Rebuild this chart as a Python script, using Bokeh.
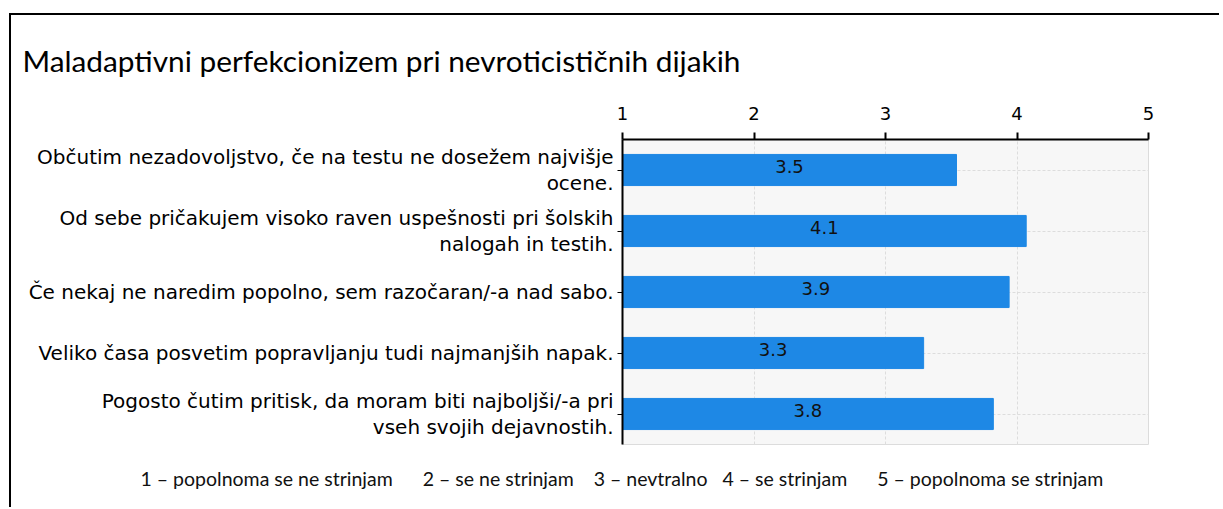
from bokeh.plotting import figure
from bokeh.models import Range1d, FactorRange, FixedTicker, ColumnDataSource, Title
from bokeh.embed import file_html
from bokeh.resources import INLINE
from bokeh.core.properties import value

title_text = "Maladaptivni perfekcionizem pri nevroticističnih dijakih"
statements = [
    "Občutim nezadovoljstvo, če na testu ne dosežem najvišje\nocene.",
    "Od sebe pričakujem visoko raven uspešnosti pri šolskih\nnalogah in testih.",
    "Če nekaj ne naredim popolno, sem razočaran/-a nad sabo.",
    "Veliko časa posvetim popravljanju tudi najmanjših napak.",
    "Pogosto čutim pritisk, da moram biti najboljši/-a pri\nvseh svojih dejavnostih.",
]
means = [3.54, 4.07, 3.94, 3.29, 3.82]
x_ticks = [1, 2, 3, 4, 5]
NB = "\u00a0"
scale_items = ["1 – popolnoma se ne strinjam", "2 – se ne strinjam", "3 – nevtralno",
               "4 – se strinjam", "5 – popolnoma se strinjam"]
scale_gaps = [6, 4, 3, 6]

footer = scale_items[0]
for g, item in zip(scale_gaps, scale_items[1:]):
    footer += " " + NB * (g - 1) + item

src = ColumnDataSource(dict(
    cat=statements,
    mean=means,
    mid=[(1 + m) / 2 for m in means],
    lbl=[f"{m:.1f}" for m in means],
))

W, H = 1210, 494
FL, FR, FT, FB = 611, 1137, 123, 430

p = figure(width=W, height=H,
           y_range=FactorRange(*reversed(statements)),
           x_range=Range1d(1, 5),
           x_axis_location="above",
           output_backend="svg", toolbar_location=None,
           min_border_left=FL, min_border_right=W - FR,
           min_border_top=FT, min_border_bottom=H - FB)

p.styles = {"border-left": "2px solid #000", "border-top": "2px solid #000",
            "margin-top": "13px", "margin-left": "9px"}

p.background_fill_color = "#f7f7f7"
p.border_fill_color = "white"
p.outline_line_color = "#dcdcdc"
p.outline_line_width = 1

p.hbar(y="cat", left=1, right="mean", height=0.51, source=src,
       fill_color="#1e88e5", line_color="#1e88e5")
p.text(x="mid", y="cat", text="lbl", source=src, text_align="center",
       text_baseline="middle", text_font=value("DejaVu Sans"),
       text_font_size="18px", text_color="#111111", y_offset=-4)

# grids
p.xgrid.ticker = FixedTicker(ticks=x_ticks)
p.xgrid.grid_line_color = "#dddddd"
p.xgrid.grid_line_dash = "3 2"
p.ygrid.grid_line_color = "#dddddd"
p.ygrid.grid_line_dash = "3 2"

# top axis
xa = p.xaxis[0]
xa.ticker = FixedTicker(ticks=x_ticks)
xa.axis_line_width = 2
xa.axis_line_color = "black"
xa.major_tick_line_width = 2
xa.major_tick_line_color = "black"
xa.major_tick_out = 7
xa.major_tick_in = 0
xa.minor_tick_line_color = None
xa.major_label_text_font = "DejaVu Sans"
xa.major_label_text_font_size = "18px"
xa.major_label_text_color = "black"
xa.major_label_standoff = 13

# left axis
ya = p.yaxis[0]
ya.axis_line_width = 2
ya.axis_line_color = "black"
ya.major_tick_line_color = "black"
ya.major_tick_line_width = 1
ya.major_tick_out = 5
ya.major_tick_in = 0
ya.major_label_text_font = "DejaVu Sans"
ya.major_label_text_font_size = "20px"
ya.major_label_text_line_height = 1.05
ya.major_label_text_color = "black"
ya.major_label_standoff = 4

# title
p.title.text = title_text
p.title.align = "left"
p.title.offset = 22 - 622
p.title.text_font = "Lato"
p.title.text_font_size = "29.8px"
p.title.text_font_style = "normal"
p.title.text_color = "black"
p.title.standoff = 51

ft = Title(text=footer, align="left", offset=140 - 622, text_font="Lato",
           text_font_size="19.5px", text_font_style="normal", text_color="#111111",
           standoff=40)
p.add_layout(ft, "below")

open("out.html", "w").write(file_html(p, INLINE))
